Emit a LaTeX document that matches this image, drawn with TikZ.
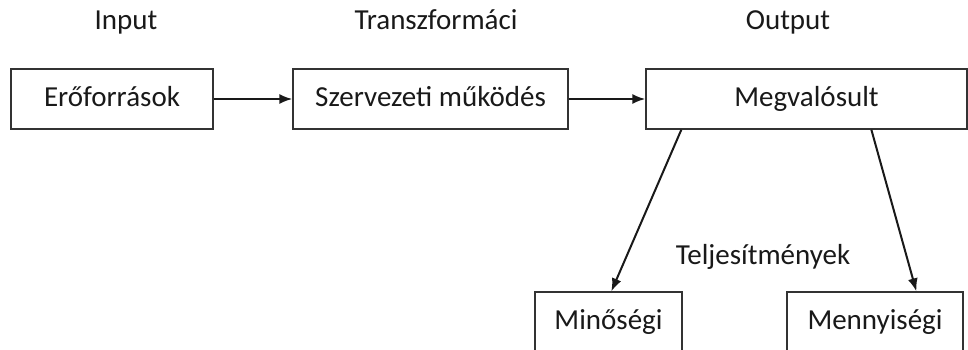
\documentclass[tikz,border=0pt]{standalone}
\usepackage{fontspec}
\setmainfont{Carlito}
\usetikzlibrary{arrows.meta,calc}
\begin{document}
\begin{tikzpicture}[x=1pt,y=-1pt,
 txt/.style={font=\fontsize{29}{33}\selectfont,text=black!90},
 box/.style={txt,draw=black!80,line width=1.3pt,minimum height=60pt,inner sep=0pt,text height=20pt,text depth=6pt},
 lbl/.style={txt,inner sep=0pt,anchor=base},
 arr/.style={line width=2pt,black!90,-{Latex[length=13pt,width=10pt]}}]
\useasboundingbox (0,0) rectangle (968,349);
\clip (0,0) rectangle (968,349);
\node[box,minimum width=202pt] (r) at (112,99) {Erőforrások};
\node[box,minimum width=275pt] (s) at (430.5,99) {Szervezeti működés};
\node[box,minimum width=321pt] (m) at (806.5,99) {Megvalósult};
\node[box,minimum width=147pt] (q) at (608.5,322) {Minőségi};
\node[box,minimum width=176pt] (n) at (875,322) {Mennyiségi};
\node[lbl] (ti) at (126,29) {Input};
\node[lbl] (tt) at (436,29) {Transzformáci};
\node[lbl] (to) at (788,29) {Output};
\node[lbl] (tp) at (763,264) {Teljesítmények};
\draw[arr] (r.east) -- (s.west);
\draw[arr] (s.east) -- (m.west);
\draw[arr] ([xshift=36pt]m.south west) -- ([xshift=77pt]q.north west);
\draw[arr] ([xshift=226pt]m.south west) -- ([xshift=130pt]n.north west);
\end{tikzpicture}
\end{document}
